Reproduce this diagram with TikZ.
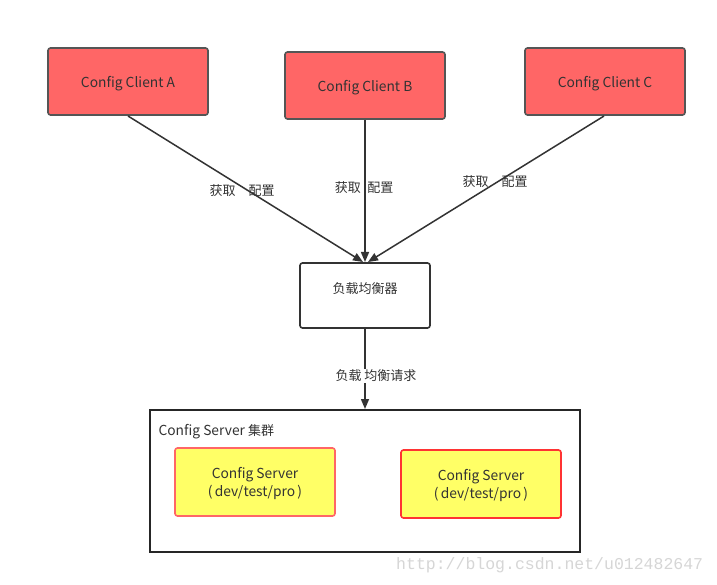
\documentclass[tikz,border=0pt]{standalone}
\usepackage{fontspec}
\setmainfont{Noto Sans CJK SC}
\newfontfamily\wmfont{Liberation Mono}
\usetikzlibrary{arrows.meta}
\definecolor{clientred}{HTML}{FF6666}
\definecolor{edgegray}{HTML}{555555}
\definecolor{srvyellow}{HTML}{FFFF66}
\definecolor{srvedgeA}{HTML}{FF6666}
\definecolor{srvedgeB}{HTML}{FF3333}
\definecolor{linegray}{HTML}{333333}
\definecolor{wmgray}{HTML}{D6D6D6}
\begin{document}
\begin{tikzpicture}[x=1pt,y=-1pt,
  every node/.style={font=\fontsize{13}{15}\selectfont, text=black!80},
  latin/.style={font=\fontsize{13.8}{18}\selectfont},
  client/.style={draw=edgegray, line width=1.6pt, fill=clientred, rounded corners=2.5pt},
  plain/.style={draw=linegray, line width=1.6pt, fill=white, rounded corners=2.5pt},
  server/.style={line width=1.6pt, fill=srvyellow, rounded corners=2.5pt},
  conn/.style={draw=linegray, line width=1.5pt, -{Triangle[length=10pt,width=8pt]}},
  lbl/.style={fill=none, inner sep=1pt}]
\useasboundingbox (0,0) rectangle (717,585);
\fill[white] (0,0) rectangle (717,585);

\draw[client] (48,48) rectangle (208,115);
\node[latin] (ca) at (128,83.5) {Config Client A};
\draw[client] (285,52) rectangle (445,119);
\node[latin] (cb) at (365,87.5) {Config Client B};
\draw[client] (525,48) rectangle (685,115);
\node[latin] (cc) at (605,83.5) {Config Client C};

\draw[plain] (300,263) rectangle (430,328);
\node (lb) at (365,289) {负载均衡器};

\draw[draw=black!85, line width=1.6pt] (150,410) rectangle (580,552);
\node[anchor=west, latin] (cl) at (155,431.5) {Config Server \fontsize{13}{15}\selectfont 集群};

\draw[server, draw=srvedgeA] (175,448) rectangle (335,516);
\node[align=center, latin] (s1) at (255,483) {Config Server\\(\,dev/test/pro\,)};
\draw[server, draw=srvedgeB] (401,450) rectangle (561,518);
\node[align=center, latin] (s2) at (481,485) {Config Server\\(\,dev/test/pro\,)};

\coordinate (aout) at (128,116);
\coordinate (bout) at (365,120);
\coordinate (cout) at (604,116);
\coordinate (lbin1) at (363,262);
\coordinate (lbin2) at (365,262);
\coordinate (lbin3) at (368,262);
\coordinate (lbout) at (365,329);
\coordinate (clin) at (365,409);

\draw[conn] (aout) -- (lbin1);
\draw[conn] (bout) -- (lbin2);
\draw[conn] (cout) -- (lbin3);
\draw[conn] (lbout) -- (clin);

\node[lbl] (la) at (242,191) {获取\hspace{1em}配置};
\node[lbl] (lbb) at (364,188) {获取\hspace{0.5em}配置};
\node[lbl] (lc) at (495,182) {获取\hspace{1em}配置};
\node[lbl, fill=white] (ld) at (376,376) {负载 均衡请求};

\node[anchor=west, inner sep=0pt, text=wmgray, font=\wmfont\fontsize{16.5}{18}\selectfont] (wm) at (396,565) {http://blog.csdn.net/u012482647};
\end{tikzpicture}
\end{document}
